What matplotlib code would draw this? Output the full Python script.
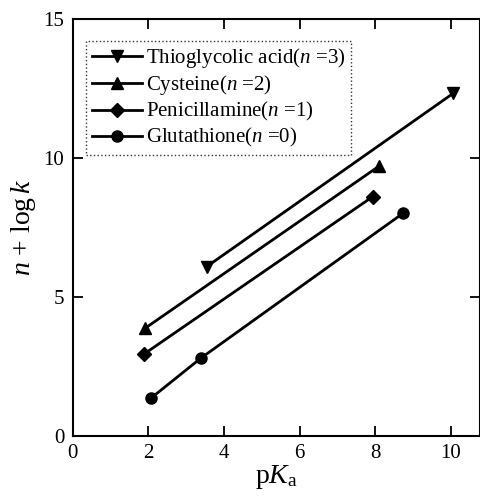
import matplotlib
matplotlib.use("Agg")
import matplotlib.pyplot as plt

thio_x = [3.54, 10.06]
thio_y = [6.09, 12.33]
cys_x = [1.91, 8.11]
cys_y = [3.87, 9.72]
pen_x = [1.89, 7.93]
pen_y = [2.95, 8.61]
glu_x = [2.07, 3.39, 8.73]
glu_y = [1.36, 2.80, 8.01]

labels = ["Thioglycolic acid($n$ =3)", "Cysteine($n$ =2)",
          "Penicillamine($n$ =1)", "Glutathione($n$ =0)"]

plt.rcParams['font.family'] = 'Liberation Serif'
plt.rcParams['mathtext.fontset'] = 'custom'
plt.rcParams['mathtext.rm'] = 'Liberation Serif'
plt.rcParams['mathtext.it'] = 'Liberation Serif:italic'

fig = plt.figure(figsize=(4.81, 5.04), dpi=100)
ax = fig.add_axes([0.151, 0.135, 0.847, 0.827])

ax.plot(thio_x, thio_y, 'k-', marker='v', ms=9, lw=2, label=labels[0])
ax.plot(cys_x, cys_y, 'k-', marker='^', ms=9, lw=2, label=labels[1])
ax.plot(pen_x, pen_y, 'k-', marker='D', ms=7, lw=2, label=labels[2])
ax.plot(glu_x, glu_y, 'k-', marker='o', ms=8, lw=2, label=labels[3])

ax.set_xlim(0, 10.77)
ax.set_ylim(0, 15)
ax.set_xticks([0, 2, 4, 6, 8, 10])
ax.set_yticks([0, 5, 10, 15])
ax.tick_params(direction='in', top=True, right=True, length=7, width=1.3,
               labelsize=15, pad=6)
for s in ax.spines.values():
    s.set_linewidth(1.5)

ax.set_xlabel(r"p$K_{\mathrm{a}}$", fontsize=20, labelpad=0)
ax.set_ylabel(r"$n$ + log$\,k$", fontsize=20, labelpad=4)

leg = ax.legend(loc='upper left', bbox_to_anchor=(0.034, 0.948), fontsize=15,
                handlelength=2.4, borderpad=0.25, labelspacing=0.15,
                handletextpad=0.2, fancybox=False, edgecolor='k', borderaxespad=0)
leg.get_frame().set_linestyle(':')
leg.get_frame().set_linewidth(1.0)

fig.savefig("out.png", dpi=100)
